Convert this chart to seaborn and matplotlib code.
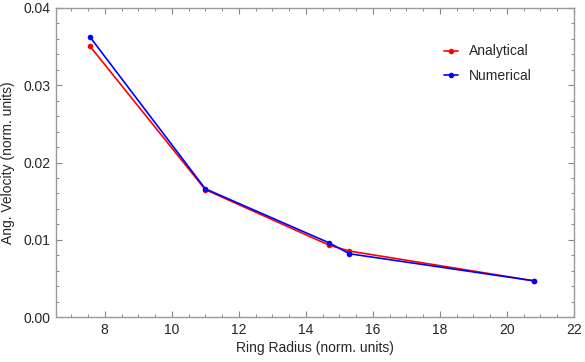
import pandas as pd
import matplotlib
matplotlib.use("Agg")
import matplotlib.pyplot as plt
from matplotlib.ticker import MultipleLocator
import seaborn as sns

# ring radius (norm. units) and angular velocity
radius = [7.55, 11.0, 14.7, 15.3, 20.8]
analytical = [0.0351, 0.0165, 0.0093, 0.00855, 0.0047]
numerical = [0.0363, 0.0166, 0.0096, 0.0082, 0.0047]
series_names = ["Analytical", "Numerical"]

df = pd.DataFrame({
    "radius": radius * 2,
    "vel": analytical + numerical,
    "series": [series_names[0]] * len(radius) + [series_names[1]] * len(radius),
})

sns.set_theme(style="ticks")
plt.rcParams["font.family"] = ["Liberation Sans", "DejaVu Sans"]

fig = plt.figure(figsize=(5.85, 3.62), dpi=100)
ax = fig.add_axes([0.096, 0.124, 0.885, 0.854])

sns.lineplot(data=df, x="radius", y="vel", hue="series",
             palette={"Analytical": "#ff0000", "Numerical": "#0000ff"},
             marker="o", markersize=4, markeredgewidth=0, linewidth=1.2,
             sort=False, ax=ax)

ax.set_xlim(6.55, 22.0)
ax.set_ylim(0, 0.04)
ax.xaxis.set_major_locator(MultipleLocator(2))
ax.xaxis.set_minor_locator(MultipleLocator(0.5))
ax.yaxis.set_major_locator(MultipleLocator(0.01))
ax.yaxis.set_minor_locator(MultipleLocator(0.002))
ax.yaxis.set_major_formatter(matplotlib.ticker.FormatStrFormatter("%.2f"))

for s in ax.spines.values():
    s.set_visible(True)
    s.set_color("#999999")
    s.set_linewidth(1.0)
ax.tick_params(which="both", direction="in", top=True, right=True,
               color="#888888", labelsize=10, pad=4)
ax.tick_params(which="major", length=4, width=0.8)
ax.tick_params(which="minor", length=2.5, width=0.7)

ax.set_xlabel("Ring Radius (norm. units)", fontsize=10, labelpad=3)
ax.set_ylabel("Ang. Velocity (norm. units)", fontsize=10, labelpad=6)

leg = ax.legend(loc="upper left", bbox_to_anchor=(0.749, 0.882), frameon=False,
                fontsize=10, handlelength=1.0, handletextpad=0.8,
                labelspacing=0.75, borderpad=0, borderaxespad=0, title=None)

fig.savefig("out.png", dpi=100)
